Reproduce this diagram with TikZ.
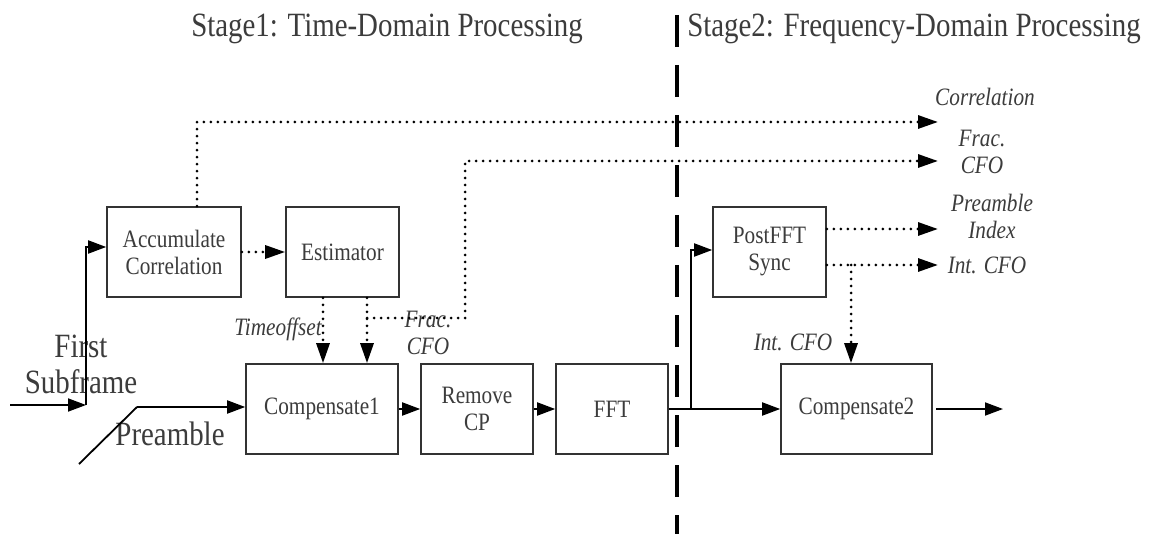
\documentclass[tikz,border=0pt]{standalone}
\usepackage{fontspec}
\setmainfont{Liberation Serif}[FakeStretch=0.85]
\usetikzlibrary{arrows.meta,calc}
\definecolor{txt}{HTML}{3C3C3C}
\definecolor{edge}{HTML}{333333}
\begin{document}
\begin{tikzpicture}[x=1pt,y=-1pt,
  box/.style={draw=edge,line width=1.6pt,inner sep=0pt,align=center,text=txt,
    font=\fontsize{25}{27}\selectfont},
  lbl/.style={text=txt,inner sep=0pt,font=\fontsize{25}{27}\selectfont\itshape,align=center},
  big/.style={text=txt,inner sep=0pt,font=\fontsize{34}{36}\selectfont,align=center},
  tip/.style={-{Triangle[length=18pt,width=13pt]}},
  solidarr/.style={line width=1.8pt,tip},
  dotline/.style={line width=3pt,line cap=round,dash pattern=on 0pt off 7pt},
  dotarr/.style={dotline,-{Triangle[length=20pt,width=13pt]}},
  divider/.style={line width=3.5pt,dash pattern=on 32pt off 18pt}
]
\useasboundingbox[fill=white] (0,0) rectangle (1150,534);

% titles
\node[big,anchor=base] (t1) at (387,37) {Stage1: Time-Domain Processing};
\node[big,anchor=base] (t2) at (914,37) {Stage2: Frequency-Domain Processing};

% divider
\coordinate (dvtop) at (677,15);
\coordinate (dvbot) at (677,540);
\draw[divider] (dvtop) -- (dvbot);

% boxes
\node[box,minimum width=134,minimum height=90] (acc) at (174,252) {Accumulate\\Correlation};
\node[box,minimum width=113,minimum height=90] (est) at (342.5,252) {Estimator};
\node[box,minimum width=152,minimum height=90] (comp1) at (322,409) {Compensate1};
\node[box,minimum width=112,minimum height=90] (rcp) at (477,409) {Remove\\CP};
\node[box,minimum width=112,minimum height=90] (fft) at (612,409) {FFT};
\node[box,minimum width=113,minimum height=90] (post) at (769.5,252) {PostFFT\\Sync};
\node[box,minimum width=151,minimum height=90] (comp2) at (856.5,409) {Compensate2};

% input labels
\node[big] (first) at (81,364) {First\\Subframe};
\node[big,anchor=base] (pre) at (170,445) {Preamble};

% italic labels
\node[lbl,anchor=base] (lcor) at (985,106) {Correlation};
\node[lbl] (lfrac) at (982,152) {Frac.\\CFO};
\node[lbl] (lpidx) at (992,216) {Preamble\\Index};
\node[lbl,anchor=base] (licfo) at (987,274) {Int. CFO};
\node[lbl,anchor=base] (licfo2) at (793,350) {Int. CFO};
\node[lbl,anchor=base] (lto) at (278,335) {Timeoffset};
\node[lbl] (lfrac2) at (428,333) {Frac.\\CFO};

% first subframe input
\coordinate (fsin) at (10,405);
\coordinate (fsj) at (86,405);
\draw[solidarr] (fsin) -- (fsj);
\draw[solidarr] (fsj) |- ([yshift=5pt]acc.west);

% preamble input
\coordinate (pre0) at (79,464);
\coordinate (pre1) at (137,407);
\draw[line width=1.8pt] (pre0) -- (pre1);
\draw[solidarr] (pre1) -- (comp1.west |- pre1);

% accumulate -> estimator
\draw[dotarr] (acc.east) -- (est.west);

% correlation output
\coordinate (corend) at (938,122);
\draw[dotarr] ([xshift=23pt]acc.north) |- (corend);

% estimator -> compensate1
\coordinate (tos) at ([xshift=-19.5pt]est.south);
\coordinate (frs) at ([xshift=24.5pt]est.south);
\draw[dotarr] (tos) -- (tos |- comp1.north);
\draw[dotarr] (frs) -- (frs |- comp1.north);

% frac CFO output
\coordinate (fb) at (367,318);
\coordinate (fc1) at (465,318);
\coordinate (fcend) at (938,161);
\draw[dotarr] (fb) -- (fc1) |- (fcend);

% main chain
\draw[solidarr] (comp1.east) -- (rcp.west);
\draw[solidarr] (rcp.east) -- (fft.west);
\draw[solidarr] (fft.east) -- (comp2.west);
\coordinate (br) at (691,409);
\draw[solidarr] (br) |- ([yshift=2pt]post.west);

% postfft outputs
\coordinate (piend) at (938,229);
\coordinate (icend) at (938,265);
\draw[dotarr] (post.east |- piend) -- (piend);
\draw[dotarr] (post.east |- icend) -- (icend);
\coordinate (icb) at (851,265);
\draw[dotarr] (icb) -- (icb |- comp2.north);

% output
\coordinate (out0) at (936,409);
\coordinate (out1) at (1003,409);
\draw[solidarr] (out0) -- (out1);
\end{tikzpicture}
\end{document}
